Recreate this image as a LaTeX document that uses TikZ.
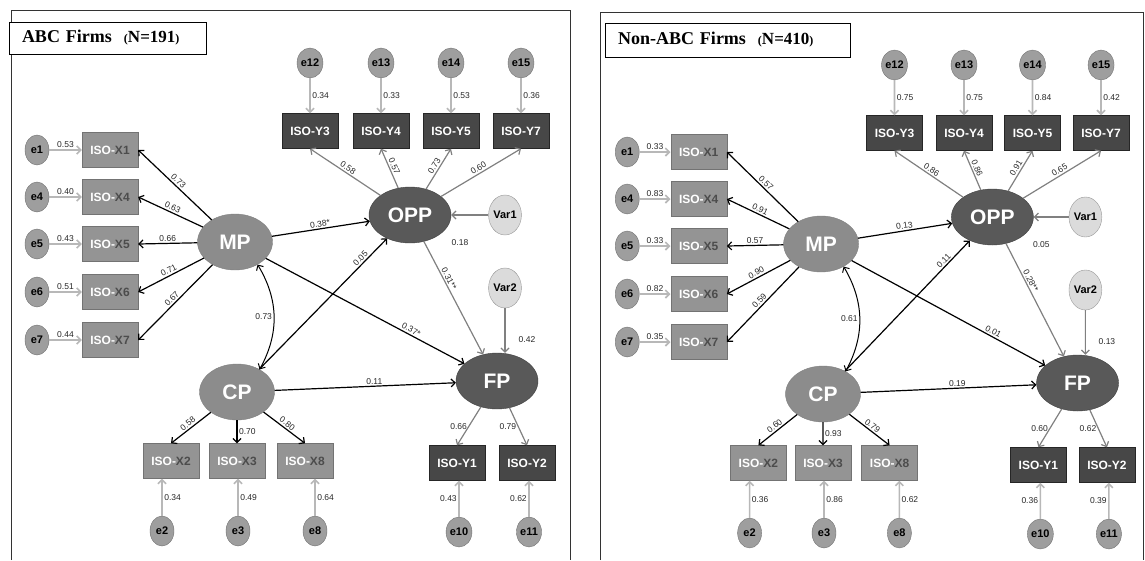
\documentclass[tikz,border=0pt]{standalone}
\usepackage{fontspec}
\setmainfont{Liberation Serif}
\setsansfont{Liberation Sans}
\usetikzlibrary{shapes.geometric,arrows.meta}

\tikzset{
  frame/.style={draw=black!80, line width=1pt},
  titlebox/.style={draw, line width=0.8pt, fill=white, inner xsep=13pt, inner ysep=0pt, align=left,
    font=\rmfamily\bfseries\fontsize{18}{20}\selectfont},
  xbox/.style={rectangle, draw=black!55, fill=black!42, text=white, inner sep=0pt,
    font=\sffamily\bfseries\fontsize{12}{14}\selectfont, minimum width=56pt, minimum height=35pt},
  ybox/.style={xbox, fill=black!72, draw=black!85},
  latent/.style={ellipse, draw=black!50, fill=black!45, text=white, inner sep=0pt,
    font=\sffamily\bfseries\fontsize{21}{24}\selectfont, minimum width=75pt, minimum height=56pt},
  latdark/.style={latent, fill=black!65, draw=black!75, minimum width=82pt},
  err/.style={ellipse, draw=black!55, fill=black!38, inner sep=0pt,
    font=\sffamily\bfseries\fontsize{11}{13}\selectfont, minimum width=24pt, minimum height=30pt},
  ctrl/.style={err, fill=black!14, draw=black!40, minimum width=29pt, minimum height=40pt},
  val/.style={font=\sffamily\fontsize{8.5}{10}\selectfont, inner sep=1.5pt, text=black!85},
  load/.style={<-, line width=1.2pt},
  gload/.style={<-, line width=1.2pt, draw=black!50},
  errline/.style={->, line width=1.6pt, draw=black!28},
  struct/.style={->, line width=1.2pt},
  gstruct/.style={->, line width=1.2pt, draw=black!50},
}
\newcommand{\nsize}[1]{{\fontsize{17}{19}\selectfont{\fontsize{12}{13}\selectfont(}#1{\fontsize{12}{13}\selectfont)}}}

\begin{document}
\begin{tikzpicture}[x=1pt,y=-1pt,>={Straight Barb[length=4pt,width=8pt]}]
  \useasboundingbox (0,0) rectangle (1145,560);

  % frames and titles
  \draw[frame] (11,560) |- (570,10) -- (570,560);
  \draw[frame] (600,560) |- (1143,12) -- (1143,560);
  \node[titlebox, text width=171pt, minimum height=32pt] (ttlA) at (107.5,38) {ABC Firms\ \ \nsize{N=191}};
  \node[titlebox, text width=219pt, minimum height=34pt] (ttlB) at (727.5,40) {Non-ABC Firms\ \ \nsize{N=410}};

  % ---- ABC firms ----
  \begin{scope}
    \node[latent] (mpA) at (235,242) {MP};
    \node[latent] (cpA) at (237,392) {CP};
    \node[latdark] (oppA) at (410,215) {OPP};
    \node[latdark] (fpA) at (497,381) {FP};
    \node[ctrl] (varA1) at (505,215) {Var1};
    \node[ctrl] (varA2) at (505,288) {Var2};
    \node[val] (rsqA1) at (460,243) {0.18};
    \node[val] (rsqA2) at (527,340) {0.42};

    % MP items
    \foreach \i/\y/\ev/\lv in {1/150/0.53/0.73, 4/197/0.40/0.63, 5/244/0.43/0.66, 6/292/0.51/0.71, 7/340/0.44/0.67}{
      \node[xbox] (xA\i) at (110,\y) {ISO-{\color{black!70}X\i}};
      \node[err] (eA\i) at (37,\y) {e\i};
      \draw[errline] (eA\i) -- node[val,above]{\ev} (xA\i);
      \draw[load] (xA\i.east) -- node[val,above,sloped]{\lv} (mpA);
    }
    % OPP items
    \foreach \i/\k/\x/\ev/\lv in {3/12/310/0.34/0.58, 4/13/381/0.33/0.57, 5/14/451/0.53/0.73, 7/15/521/0.36/0.60}{
      \node[ybox] (yA\i) at (\x,131) {ISO-Y\i};
      \node[err] (eA\k) at (\x,63) {e\k};
      \draw[errline] (eA\k) -- node[val,right]{\ev} (yA\i);
      \draw[gload] (yA\i.south) -- node[val,above,sloped]{\lv} (oppA);
    }
    % CP items
    \node[xbox] (xA2) at (171,461) {ISO-{\color{black!70}X2}};
    \node[xbox] (xA3) at (237,461) {ISO-{\color{black!70}X3}};
    \node[xbox] (xA8) at (305,461) {ISO-{\color{black!70}X8}};
    \node[err] (eA2) at (162,531) {e2};
    \node[err] (eA3) at (238,531) {e3};
    \node[err] (eA8) at (315,531) {e8};
    \draw[load] (xA2.north) -- node[val,above,sloped]{0.58} (cpA);
    \draw[load] (xA3.north) -- node[val,right]{0.70} (cpA);
    \draw[load] (xA8.north) -- node[val,above,sloped]{0.80} (cpA);
    \foreach \i/\ev in {2/0.34, 3/0.49, 8/0.64}
      \draw[errline] (eA\i) -- node[val,right]{\ev} (eA\i |- xA\i.south);
    % FP items
    \node[ybox] (yA1) at (457,463) {ISO-Y1};
    \node[ybox] (yA2) at (527,463) {ISO-Y2};
    \node[err] (eA10) at (459,532) {e10};
    \node[err] (eA11) at (529,532) {e11};
    \draw[gload] (yA1.north) -- node[val,left]{0.66} (fpA);
    \draw[gload] (yA2.north) -- node[val,left]{0.79} (fpA);
    \draw[errline] (eA10) -- node[val,left]{0.43} (eA10 |- yA1.south);
    \draw[errline] (eA11) -- node[val,left]{0.62} (eA11 |- yA2.south);

    % structural paths
    \draw[struct] (mpA) -- node[val,above,sloped]{0.38*} (oppA);
    \draw[struct] (mpA) -- node[val,above,sloped,pos=0.72]{0.37*} (fpA);
    \draw[struct] (cpA) -- node[val,above,sloped,pos=0.82]{0.05} (oppA);
    \draw[struct] (cpA) -- node[val,above,pos=0.55]{0.11} (fpA);
    \draw[gstruct] (oppA) -- node[val,above,sloped,pos=0.35]{0.31**} (fpA);
    \draw[<->, line width=1pt] (mpA.-45) to[bend left=30] node[val,left]{0.73} (cpA.45);
    \draw[gstruct] (varA1) -- (oppA);
    \draw[gstruct] (varA2) -- (varA2 |- fpA.north);
  \end{scope}

  % ---- Non-ABC firms ----
  \begin{scope}[shift={(591,2)}, xscale=0.979]
    \node[latent] (mpB) at (235,242) {MP};
    \node[latent] (cpB) at (237,392) {CP};
    \node[latdark] (oppB) at (410,215) {OPP};
    \node[latdark] (fpB) at (497,381) {FP};
    \node[ctrl] (varB1) at (505,215) {Var1};
    \node[ctrl] (varB2) at (505,288) {Var2};
    \node[val] (rsqB1) at (460,243) {0.05};
    \node[val] (rsqB2) at (527,340) {0.13};

    % MP items
    \foreach \i/\y/\ev/\lv in {1/150/0.33/0.57, 4/197/0.83/0.91, 5/244/0.33/0.57, 6/292/0.82/0.90, 7/340/0.35/0.59}{
      \node[xbox] (xB\i) at (110,\y) {ISO-{\color{black!70}X\i}};
      \node[err] (eB\i) at (37,\y) {e\i};
      \draw[errline] (eB\i) -- node[val,above]{\ev} (xB\i);
      \draw[load] (xB\i.east) -- node[val,above,sloped]{\lv} (mpB);
    }
    % OPP items
    \foreach \i/\k/\x/\ev/\lv in {3/12/310/0.75/0.86, 4/13/381/0.75/0.86, 5/14/451/0.84/0.91, 7/15/521/0.42/0.65}{
      \node[ybox] (yB\i) at (\x,131) {ISO-Y\i};
      \node[err] (eB\k) at (\x,63) {e\k};
      \draw[errline] (eB\k) -- node[val,right]{\ev} (yB\i);
      \draw[gload] (yB\i.south) -- node[val,above,sloped]{\lv} (oppB);
    }
    % CP items
    \node[xbox] (xB2) at (171,461) {ISO-{\color{black!70}X2}};
    \node[xbox] (xB3) at (237,461) {ISO-{\color{black!70}X3}};
    \node[xbox] (xB8) at (305,461) {ISO-{\color{black!70}X8}};
    \node[err] (eB2) at (162,531) {e2};
    \node[err] (eB3) at (238,531) {e3};
    \node[err] (eB8) at (315,531) {e8};
    \draw[load] (xB2.north) -- node[val,above,sloped]{0.60} (cpB);
    \draw[load] (xB3.north) -- node[val,right]{0.93} (cpB);
    \draw[load] (xB8.north) -- node[val,above,sloped]{0.79} (cpB);
    \foreach \i/\ev in {2/0.36, 3/0.86, 8/0.62}
      \draw[errline] (eB\i) -- node[val,right]{\ev} (eB\i |- xB\i.south);
    % FP items
    \node[ybox] (yB1) at (457,463) {ISO-Y1};
    \node[ybox] (yB2) at (527,463) {ISO-Y2};
    \node[err] (eB10) at (459,532) {e10};
    \node[err] (eB11) at (529,532) {e11};
    \draw[gload] (yB1.north) -- node[val,left]{0.60} (fpB);
    \draw[gload] (yB2.north) -- node[val,left]{0.62} (fpB);
    \draw[errline] (eB10) -- node[val,left]{0.36} (eB10 |- yB1.south);
    \draw[errline] (eB11) -- node[val,left]{0.39} (eB11 |- yB2.south);

    % structural paths
    \draw[struct] (mpB) -- node[val,above,sloped]{0.13} (oppB);
    \draw[struct] (mpB) -- node[val,above,sloped,pos=0.72]{0.01} (fpB);
    \draw[struct] (cpB) -- node[val,above,sloped,pos=0.82]{0.11} (oppB);
    \draw[struct] (cpB) -- node[val,above,pos=0.55]{0.19} (fpB);
    \draw[gstruct] (oppB) -- node[val,above,sloped,pos=0.35]{0.28**} (fpB);
    \draw[<->, line width=1pt] (mpB.-45) to[bend left=30] node[val,left]{0.61} (cpB.45);
    \draw[gstruct] (varB1) -- (oppB);
    \draw[gstruct] (varB2) -- (varB2 |- fpB.north);
  \end{scope}
\end{tikzpicture}
\end{document}
